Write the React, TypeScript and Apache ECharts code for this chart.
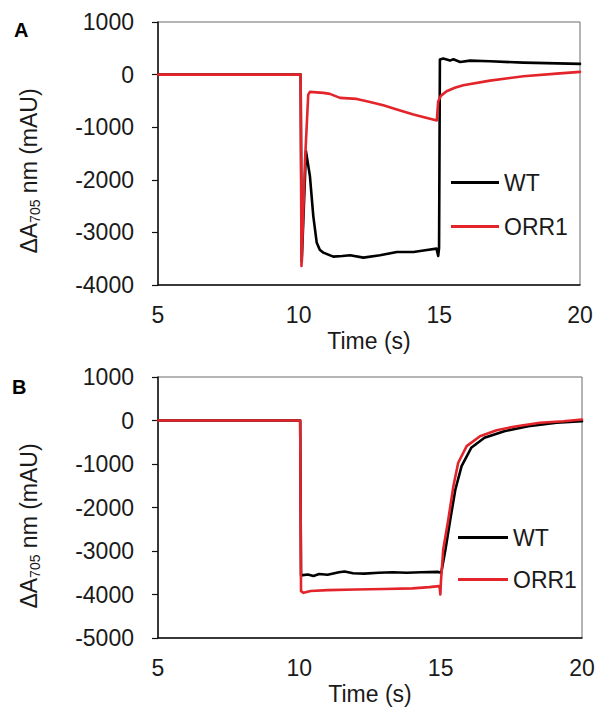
import React, { useEffect, useRef } from "react";
import * as echarts from "echarts";

// Panel A (time s, ΔA705 mAU)
const panelA_WT: [number, number][] = [
  [5, 0], [10.07, 0], [10.11, -3550], [10.26, -1455], [10.4, -1930], [10.52, -2690],
  [10.64, -3190], [10.75, -3330], [10.88, -3385], [11.23, -3460], [11.55, -3450], [11.83, -3435],
  [12.3, -3480], [12.89, -3435], [13.49, -3372], [14.08, -3372], [14.5, -3340],
  [14.9, -3308], [14.96, -3447], [14.99, -3300], [15.02, 285], [15.14, 304],
  [15.38, 266], [15.5, 291], [15.74, 240], [16.09, 266], [16.8, 253], [17.99, 228], [20, 203],
];
const panelA_ORR1: [number, number][] = [
  [5, 0], [10.07, 0], [10.1, -3640], [10.22, -1700], [10.34, -380], [10.4, -329],
  [10.88, -348], [11.11, -367], [11.47, -443], [12.06, -462], [12.42, -506],
  [13.01, -582], [13.49, -664], [14.08, -759], [14.91, -873], [14.96, -506],
  [15.06, -400], [15.26, -316], [15.55, -250], [15.85, -202], [16.8, -114],
  [17.99, -32], [19.17, 19], [20, 51],
];
// Panel B
const panelB_WT: [number, number][] = [
  [5, 0], [10.03, 0], [10.06, -3560], [10.3, -3540], [10.5, -3575], [10.7, -3530],
  [11.0, -3545], [11.4, -3490], [11.6, -3470], [11.9, -3510], [12.3, -3520], [12.8, -3500],
  [13.3, -3490], [13.8, -3500], [14.3, -3490], [14.9, -3480], [15.02, -3500], [15.17, -2966],
  [15.34, -2276], [15.52, -1586], [15.74, -1050], [16.08, -628], [16.55, -398], [17.25, -246],
  [18.1, -131], [19.1, -53], [20, -16],
];
const panelB_ORR1: [number, number][] = [
  [5, 0], [10.03, 0], [10.06, -3923], [10.15, -3962], [10.4, -3920], [11.0, -3900],
  [12.0, -3885], [13.0, -3875], [14.0, -3860], [14.6, -3830], [14.93, -3808], [14.96, -3810],
  [14.99, -4000], [15.01, -3700], [15.09, -2966], [15.27, -2276], [15.45, -1510], [15.62, -972],
  [15.92, -590], [16.39, -361], [16.98, -223], [17.69, -131], [18.51, -53], [19.34, -16], [20, 23],
];

const seriesNames = ["WT", "ORR1"];
const xTicks = { min: 5, max: 20, interval: 5 };
const yA = { min: -4000, max: 1000, interval: 1000 };
const yB = { min: -5000, max: 1000, interval: 1000 };

const FONT = "'Liberation Sans', Arial, sans-serif";
const BLACK = "#000000";
const RED = "#e3242b";

export default function App() {
  const ref = useRef<HTMLDivElement>(null);
  useEffect(() => {
    if (!ref.current) return;
    const chart = echarts.init(ref.current, undefined, { renderer: "svg" });
    const xAxisBase = (gridIndex: number) => ({
      type: "value" as const,
      gridIndex,
      ...xTicks,
      axisLine: { show: true, onZero: false, lineStyle: { color: "#111", width: 1.5 } },
      axisTick: { show: false },
      splitLine: { show: false },
      axisLabel: { fontSize: 23, color: "#1a1a1a", margin: 18, fontFamily: FONT, formatter: (v: number) => String(v) },
      name: "Time (s)",
      nameLocation: "middle" as const,
      nameGap: 44,
      nameTextStyle: { fontSize: 23, color: "#1a1a1a", fontFamily: FONT },
    });
    const yAxisBase = (gridIndex: number, r: any) => ({
      type: "value" as const,
      gridIndex,
      ...r,
      axisLine: { show: true, onZero: false, lineStyle: { color: "#111", width: 1.5 } },
      axisTick: { show: true, length: 6, inside: false, lineStyle: { color: "#111", width: 1.2 } },
      splitLine: { show: false },
      axisLabel: { fontSize: 23, color: "#1a1a1a", margin: 24, fontFamily: FONT, formatter: (v: number) => String(v) },
    });
    const line = (name: string, data: [number, number][], color: string, idx: number) => ({
      type: "line" as const,
      name,
      data,
      xAxisIndex: idx,
      yAxisIndex: idx,
      showSymbol: false,
      symbol: "none",
      color,
      lineStyle: { color, width: 2.6, join: "round", cap: "round" },
    });
    const legendBase = {
      orient: "vertical" as const,
      icon: "rect",
      itemHeight: 3,
      itemTextGap: 5,
      selectedMode: false,
      textStyle: { fontSize: 23, color: "#1a1a1a", fontFamily: FONT },
      data: seriesNames,
    };
    const yTitle = (x: number, y: number) => ({
      type: "text" as const,
      x,
      y,
      rotation: Math.PI / 2,
      style: {
        text: "{a|ΔA}{s|705}{a| nm (mAU)}",
        align: "center",
        verticalAlign: "middle",
        fill: "#1a1a1a",
        rich: {
          a: { fontSize: 23, fontFamily: FONT, fill: "#1a1a1a", lineHeight: 26, verticalAlign: "middle" },
          s: { fontSize: 14, fontFamily: FONT, fill: "#1a1a1a", lineHeight: 26, verticalAlign: "bottom" },
        },
      },
    });
    chart.setOption({
      animation: false,
      backgroundColor: "#ffffff",
      grid: [
        { left: 158, top: 22, width: 422, height: 263, show: true, borderColor: "#6b6b6b", borderWidth: 1, backgroundColor: "transparent" },
        { left: 158, top: 377, width: 424, height: 261, show: true, borderColor: "#6b6b6b", borderWidth: 1, backgroundColor: "transparent" },
      ],
      xAxis: [xAxisBase(0), xAxisBase(1)],
      yAxis: [yAxisBase(0, yA), yAxisBase(1, yB)],
      legend: [
        { ...legendBase, left: 446, top: 166, itemWidth: 48, itemGap: 21 },
        { ...legendBase, left: 453, top: 521, itemWidth: 50, itemGap: 19 },
      ],
      graphic: [
        { type: "text", x: 14, y: 20, style: { text: "A", fontSize: 20, fontWeight: "bold", fontFamily: FONT, fill: "#000" } },
        { type: "text", x: 12, y: 377, style: { text: "B", fontSize: 20, fontWeight: "bold", fontFamily: FONT, fill: "#000" } },
        yTitle(29, 171),
        yTitle(29, 526),
      ],
      series: [
        line("WT", panelA_WT, BLACK, 0),
        line("ORR1", panelA_ORR1, RED, 0),
        line("WT", panelB_WT, BLACK, 1),
        line("ORR1", panelB_ORR1, RED, 1),
      ],
    });
    return () => chart.dispose();
  }, []);
  return (
    <div
      ref={ref}
      style={{ position: "fixed", left: 0, top: 0, width: 598, height: 708, background: "#fff" }}
    />
  );
}
